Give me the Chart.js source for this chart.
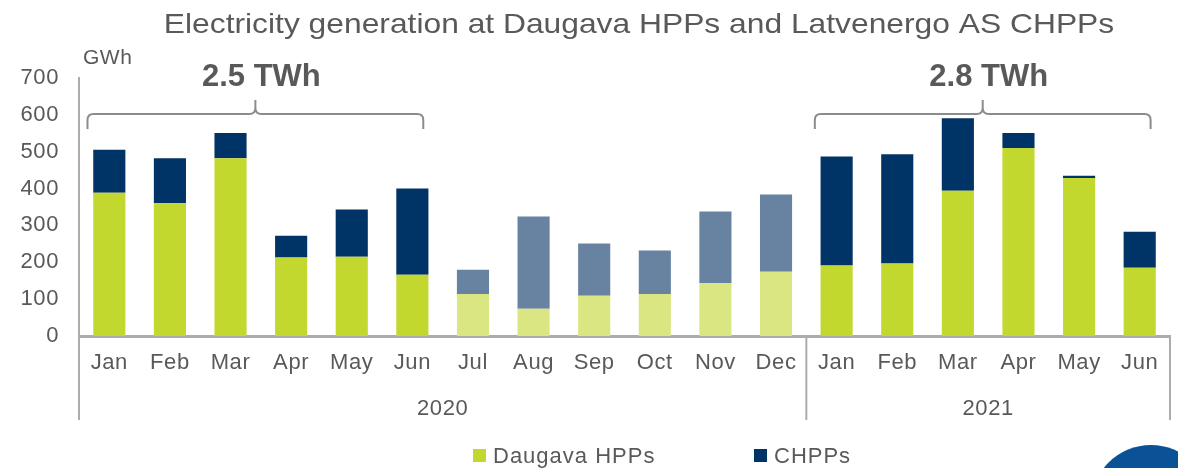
<!DOCTYPE html>
<html>
<head>
<meta charset="utf-8">
<title>Electricity generation at Daugava HPPs and Latvenergo AS CHPPs</title>
<script src="https://cdn.jsdelivr.net/npm/chart.js@4.4.1/dist/chart.umd.min.js"></script>
<style>
    html, body { margin: 0; padding: 0; background: #fff; }
</style>
</head>
<body>
<canvas id="genChart" width="1178" height="468"></canvas>
<script>
// chart data (GWh)
const months = ['Jan', 'Feb', 'Mar', 'Apr', 'May', 'Jun', 'Jul', 'Aug', 'Sep', 'Oct', 'Nov', 'Dec',
                'Jan', 'Feb', 'Mar', 'Apr', 'May', 'Jun'];
const years = ['2020', '2021'];
const monthsPerYear = [12, 6];
const daugavaHpps = [389, 360, 482, 213, 215, 166, 114, 74, 109, 114, 144, 174, 191, 197, 394, 510, 429, 185];
const chpps = [116, 122, 69, 59, 128, 234, 66, 250, 142, 118, 194, 210, 296, 296, 197, 41, 6, 98];
const yTicks = [0, 100, 200, 300, 400, 500, 600, 700];
const periodTotals = ['2.5 TWh', '2.8 TWh'];
const periodRanges = [[0, 5], [12, 17]];
const fadedRange = [6, 11];

document.addEventListener('DOMContentLoaded', () => {
    const FONT = "'Liberation Sans', Arial, sans-serif";
    const TEXT = '#595959';
    const AXIS = '#AEABAB';

    const isFaded = i => i >= fadedRange[0] && i <= fadedRange[1];

    const extras = {
        id: 'extras',
        beforeDraw(chart) {
            // the original text is set slightly wider
            chart.ctx.letterSpacing = '0.6px';
        },
        afterDraw(chart) {
            const c = chart.ctx;
            const xs = chart.scales.x;
            const area = chart.chartArea;
            const step = xs.getPixelForValue(1) - xs.getPixelForValue(0);
            c.save();

            // title (stretched sideways like the source slide)
            c.save();
            c.fillStyle = TEXT;
            c.letterSpacing = '0px';
            c.font = '28px ' + FONT;
            c.textAlign = 'center';
            c.textBaseline = 'middle';
            c.translate(639, 25);
            c.scale(1.135, 1);
            c.fillText('Electricity generation at Daugava HPPs and Latvenergo AS CHPPs', 0, 0);
            c.restore();

            c.fillStyle = TEXT;
            c.textBaseline = 'middle';
            c.letterSpacing = '0.5px';

            // unit
            c.font = '21px ' + FONT;
            c.textAlign = 'left';
            c.fillText('GWh', 83, 58);

            // braces with half-year totals
            c.strokeStyle = '#8C8C8C';
            c.lineWidth = 2;
            periodRanges.forEach((r, k) => {
                const x1 = xs.getPixelForValue(r[0]) - 0.36 * step;
                const x2 = xs.getPixelForValue(r[1]) + 0.18 * step;
                const cx = (x1 + x2) / 2;
                const yl = 114, yb = 129, yt = 100, rd = 6;
                c.beginPath();
                c.moveTo(x1, yb);
                c.lineTo(x1, yl + rd);
                c.quadraticCurveTo(x1, yl, x1 + rd, yl);
                c.lineTo(cx - rd, yl);
                c.quadraticCurveTo(cx, yl, cx, yl - rd);
                c.lineTo(cx, yt);
                c.moveTo(cx, yl - rd);
                c.quadraticCurveTo(cx, yl, cx + rd, yl);
                c.lineTo(x2 - rd, yl);
                c.quadraticCurveTo(x2, yl, x2, yl + rd);
                c.lineTo(x2, yb);
                c.stroke();

                c.letterSpacing = '0px';
                c.font = 'bold 31px ' + FONT;
                c.textAlign = 'center';
                c.fillText(periodTotals[k], cx + 6, 77);
            });

            // year group separators and labels
            c.strokeStyle = AXIS;
            c.lineWidth = 2;
            let start = 0;
            const bounds = [area.left];
            monthsPerYear.forEach(n => {
                const end = start + n - 1;
                const right = end === months.length - 1 ? area.right : (xs.getPixelForValue(end) + xs.getPixelForValue(end + 1)) / 2;
                bounds.push(right);
                start += n;
            });
            bounds.forEach(bx => {
                c.beginPath();
                c.moveTo(bx, area.bottom);
                c.lineTo(bx, 420);
                c.stroke();
            });
            c.letterSpacing = '0.6px';
            c.font = '22px ' + FONT;
            c.textAlign = 'center';
            years.forEach((yr, k) => {
                c.fillText(yr, (bounds[k] + bounds[k + 1]) / 2, 409);
            });

            // legend
            const legend = [['Daugava HPPs', '#C3D82E', 473], ['CHPPs', '#003366', 754]];
            c.textAlign = 'left';
            c.letterSpacing = '1px';
            legend.forEach(([label, col, lx]) => {
                c.fillStyle = col;
                c.fillRect(lx, 449, 13, 13);
                c.fillStyle = TEXT;
                c.fillText(label, lx + 20, 457);
            });

            // corner logo piece
            c.fillStyle = '#0B5196';
            c.beginPath();
            c.arc(1151, 505, 60, 0, Math.PI * 2);
            c.fill();

            c.restore();
        }
    };

    const ctx = document.getElementById('genChart');
    new Chart(ctx, {
        type: 'bar',
        data: {
            labels: months,
            datasets: [
                {
                    label: 'Daugava HPPs',
                    data: daugavaHpps,
                    backgroundColor: c => isFaded(c.dataIndex) ? '#D9E682' : '#C3D82E',
                    borderWidth: 0,
                    barPercentage: 0.53,
                    categoryPercentage: 1.0
                },
                {
                    label: 'CHPPs',
                    data: chpps,
                    backgroundColor: c => isFaded(c.dataIndex) ? '#6783A1' : '#003366',
                    borderWidth: 0,
                    barPercentage: 0.53,
                    categoryPercentage: 1.0
                }
            ]
        },
        options: {
            responsive: false,
            animation: false,
            layout: { padding: { top: 78, right: 8, bottom: 42, left: 0 } },
            plugins: {
                legend: { display: false },
                title: { display: false },
                tooltip: { enabled: false }
            },
            scales: {
                x: {
                    stacked: true,
                    grid: { display: false, drawTicks: false },
                    border: { display: true, color: AXIS, width: 3 },
                    ticks: {
                        color: TEXT,
                        font: { family: FONT, size: 22 },
                        padding: 14,
                        maxRotation: 0,
                        autoSkip: false
                    },
                    afterFit: s => { s.height = 90; }
                },
                y: {
                    stacked: true,
                    min: 0,
                    max: 700,
                    grid: { display: false, drawTicks: false },
                    border: { display: true, color: AXIS, width: 2 },
                    afterBuildTicks: s => { s.ticks = yTicks.map(v => ({ value: v })); },
                    ticks: {
                        color: TEXT,
                        font: { family: FONT, size: 22 },
                        padding: 20
                    },
                    afterFit: s => { s.width = 79; }
                }
            }
        },
        plugins: [extras]
    });
});
</script>
</body>
</html>
